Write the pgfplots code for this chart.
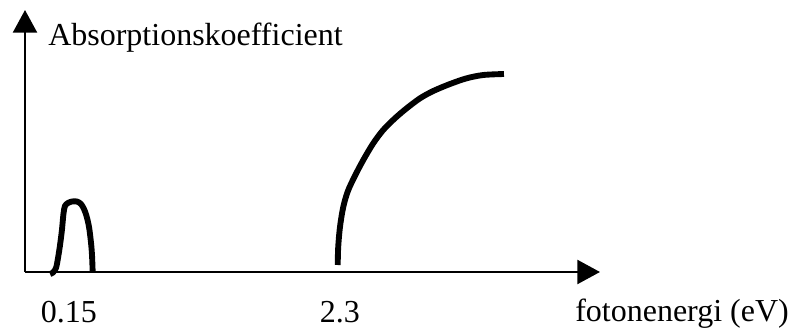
\documentclass[border=0pt]{standalone}
\usepackage{fontspec}
\setmainfont{Liberation Serif}
\usepackage{pgfplots}
\pgfplotsset{compat=1.18}
\usetikzlibrary{arrows.meta}

% absorption band around 0.15 eV
\pgfplotstableread{
E      a
0.000  -2
0.023  -0.5
0.047  4
0.063  14
0.079  27
0.094  42
0.106  58
0.118  66
0.142  69
0.174  70.5
0.213  70.5
0.245  68
0.269  63
0.289  56
0.309  45
0.325  29
0.333  16
0.338  0
}\bandlow

% absorption edge above 2.3 eV
\pgfplotstableread{
E      a
2.282  7
2.286  25
2.300  45
2.326  65
2.363  81
2.418  96
2.485  112
2.564  128.7
2.643  142
2.736  153.7
2.829  163.7
2.935  173.7
3.040  181
3.173  188
3.305  193.7
3.437  197
3.601  198
}\bandedge

\pgfplotsset{
  curve/.style={draw=black, line width=4.4pt, smooth, tension=0.5, line join=round},
}

\begin{document}
\fontsize{24}{28}\selectfont
\begin{tikzpicture}
\begin{axis}[
  scale only axis,
  width=431.25pt, height=196.5pt,
  at={(0,0)}, anchor=south west,
  xmin=-0.199, xmax=4.363,
  ymin=0, ymax=262,
  axis lines=left,
  axis line style={line width=1.7pt, -{Triangle[width=18pt,length=17pt]}},
  xtick={0.15,2.3},
  xticklabels={0.15,2.3},
  ytick=\empty,
  major tick length=0pt,
  /pgf/number format/assume math mode=true,
  xticklabel style={anchor=base, yshift=-37.5pt, inner sep=0pt, font=\fontsize{24}{28}\selectfont},
  xlabel={fotonenergi (eV)},
  xlabel style={at={(axis description cs:0.9565,-0.1908)}, anchor=base west, inner sep=0pt, font=\fontsize{24}{28}\selectfont},
  ylabel={Absorptionskoefficient},
  ylabel style={rotate=-90, at={(axis description cs:0.04,0.866)}, anchor=base west, inner sep=0pt, font=\fontsize{24}{28}\selectfont},
  clip=false,
]
\addplot[curve] table[x=E, y=a] {\bandlow};
\addplot[curve] table[x=E, y=a] {\bandedge};
\end{axis}
\pgfresetboundingbox
\path[use as bounding box] (-18.75pt,-42.75pt) rectangle (576.75pt,204pt);
\end{tikzpicture}
\end{document}
